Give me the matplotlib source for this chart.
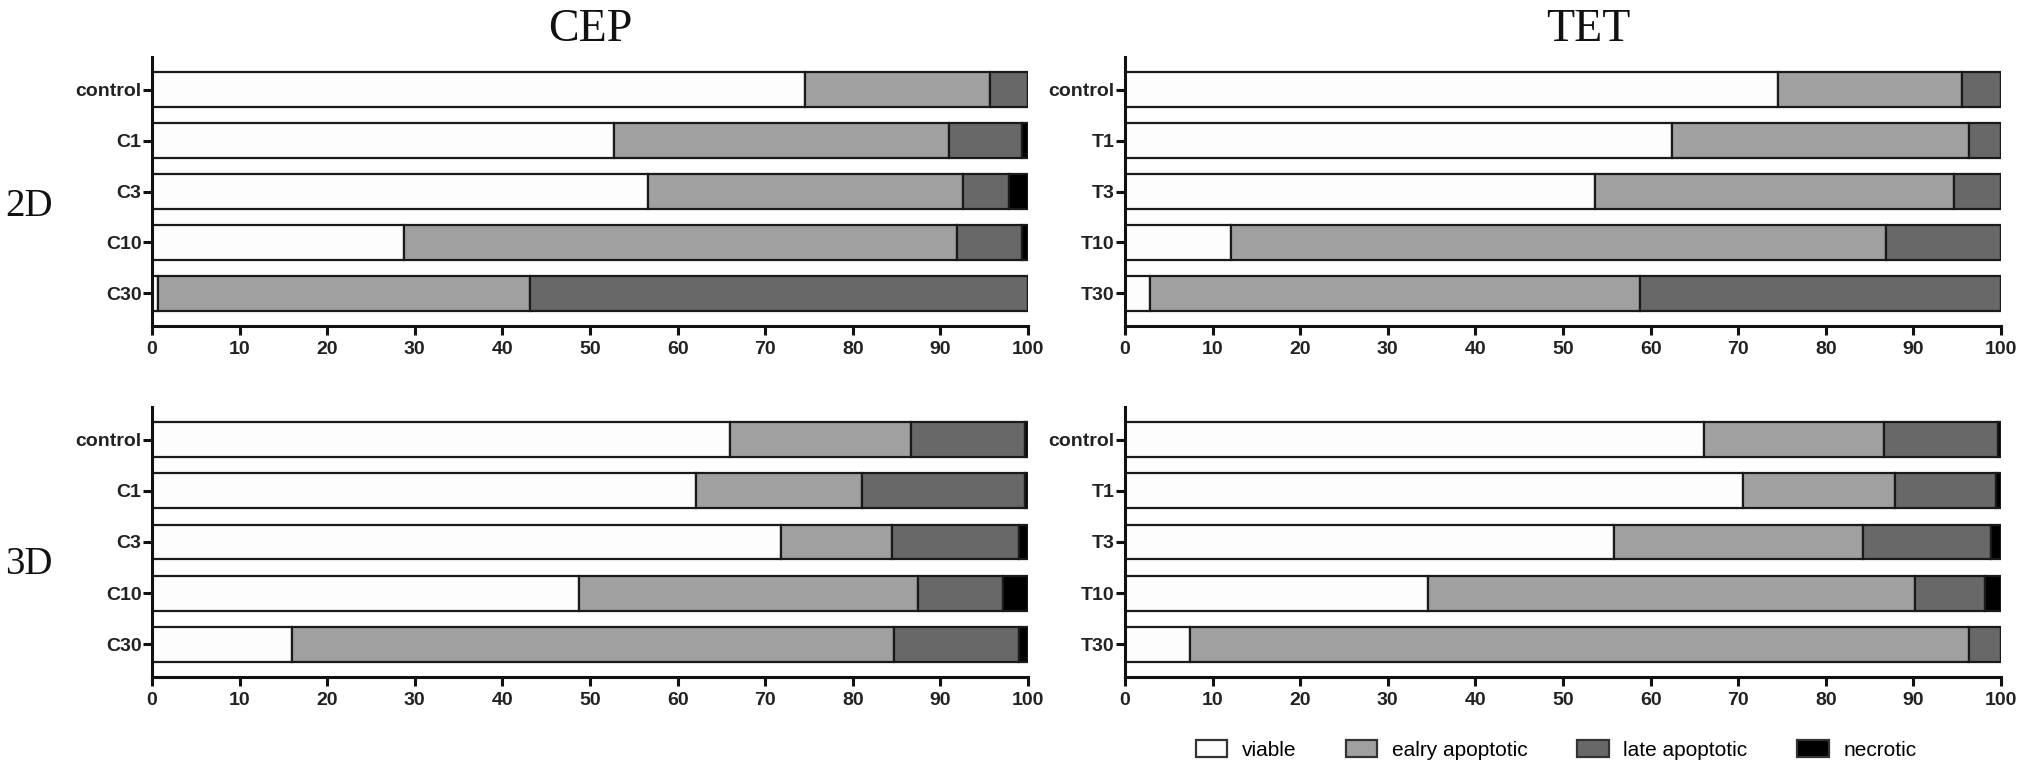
import numpy as np
import matplotlib.pyplot as plt
from matplotlib.patches import Patch

# categories
cep_labels = ['control', 'C1', 'C3', 'C10', 'C30']
tet_labels = ['control', 'T1', 'T3', 'T10', 'T30']
series = ['viable', 'ealry apoptotic', 'late apoptotic', 'necrotic']
colors = ['#fdfdfd', '#a0a0a0', '#686868', '#000000']

# 2D, CEP
cep_2d_viable = [74.6, 52.7, 56.6, 28.8, 0.7]
cep_2d_early = [21.1, 38.3, 36.0, 63.1, 42.4]
cep_2d_late = [4.3, 8.3, 5.2, 7.4, 56.9]
cep_2d_necrotic = [0.0, 0.7, 2.2, 0.7, 0.0]

# 2D, TET
tet_2d_viable = [74.5, 62.4, 53.6, 12.1, 2.8]
tet_2d_early = [21.1, 34.0, 41.0, 74.8, 56.0]
tet_2d_late = [4.4, 3.6, 5.4, 13.1, 41.2]
tet_2d_necrotic = [0.0, 0.0, 0.0, 0.0, 0.0]

# 3D, CEP
cep_3d_viable = [66.0, 62.1, 71.8, 48.7, 16.0]
cep_3d_early = [20.6, 19.0, 12.7, 38.7, 68.7]
cep_3d_late = [13.1, 18.6, 14.5, 9.8, 14.3]
cep_3d_necrotic = [0.3, 0.3, 1.0, 2.8, 1.0]

# 3D, TET
tet_3d_viable = [66.1, 70.5, 55.8, 34.6, 7.4]
tet_3d_early = [20.6, 17.4, 28.4, 55.6, 89.0]
tet_3d_late = [13.0, 11.5, 14.7, 8.0, 3.6]
tet_3d_necrotic = [0.3, 0.6, 1.1, 1.8, 0.0]

plt.rcParams['font.family'] = ['Liberation Sans', 'DejaVu Sans']

fig = plt.figure(figsize=(20.31, 7.76), dpi=100)

W = 876 / 2031
pos = {
    'tl': [152 / 2031, 1 - 326 / 776, W, 269 / 776],
    'tr': [1125 / 2031, 1 - 326 / 776, W, 269 / 776],
    'bl': [152 / 2031, 1 - 677 / 776, W, 270 / 776],
    'br': [1125 / 2031, 1 - 677 / 776, W, 270 / 776],
}

panels = [
    ('tl', cep_labels, [cep_2d_viable, cep_2d_early, cep_2d_late, cep_2d_necrotic]),
    ('tr', tet_labels, [tet_2d_viable, tet_2d_early, tet_2d_late, tet_2d_necrotic]),
    ('bl', cep_labels, [cep_3d_viable, cep_3d_early, cep_3d_late, cep_3d_necrotic]),
    ('br', tet_labels, [tet_3d_viable, tet_3d_early, tet_3d_late, tet_3d_necrotic]),
]

for key, labels, vals in panels:
    ax = fig.add_axes(pos[key])
    y = np.arange(len(labels))
    left = np.zeros(len(labels))
    for v, c in zip(vals, colors):
        v = np.array(v)
        ax.barh(y, v, left=left, height=0.68, color=c, edgecolor='#1a1a1a',
                linewidth=1.6, zorder=2)
        left += v
    ax.set_xlim(0, 100)
    ax.set_ylim(len(labels) - 1 + 0.64, -0.64)
    ax.set_yticks(y)
    ax.set_yticklabels(labels)
    ax.set_xticks(np.arange(0, 101, 10))
    for s in ['top', 'right']:
        ax.spines[s].set_visible(False)
    for s in ['left', 'bottom']:
        ax.spines[s].set_linewidth(2.2)
        ax.spines[s].set_color('#111111')
    ax.tick_params(axis='both', direction='out', length=6.5, width=2.2,
                   color='#111111', labelsize=14)
    ax.tick_params(axis='y', pad=1)
    ax.tick_params(axis='x', pad=4)
    for t in ax.get_xticklabels() + ax.get_yticklabels():
        t.set_fontweight('bold')
        t.set_color('#222222')

serif = 'Liberation Serif'
fig.text(590 / 2031, 1 - 30 / 776, 'CEP', family=serif, fontsize=33,
         ha='center', va='center', color='#111111')
fig.text(1588 / 2031, 1 - 30 / 776, 'TET', family=serif, fontsize=33,
         ha='center', va='center', color='#111111')
fig.text(29 / 2031, 1 - 207 / 776, '2D', family=serif, fontsize=28,
         ha='center', va='center', color='#111111')
fig.text(29 / 2031, 1 - 565 / 776, '3D', family=serif, fontsize=28,
         ha='center', va='center', color='#111111')

handles = [Patch(facecolor=c, edgecolor='#333333', linewidth=1.6) for c in colors]
fig.legend(handles, series, loc='center', bbox_to_anchor=(1556 / 2031, 1 - 750 / 776),
           ncol=4, frameon=False, fontsize=15, handlelength=1.5, handleheight=0.9,
           handletextpad=0.7, columnspacing=2.4)

fig.savefig('out.png', dpi=100)
